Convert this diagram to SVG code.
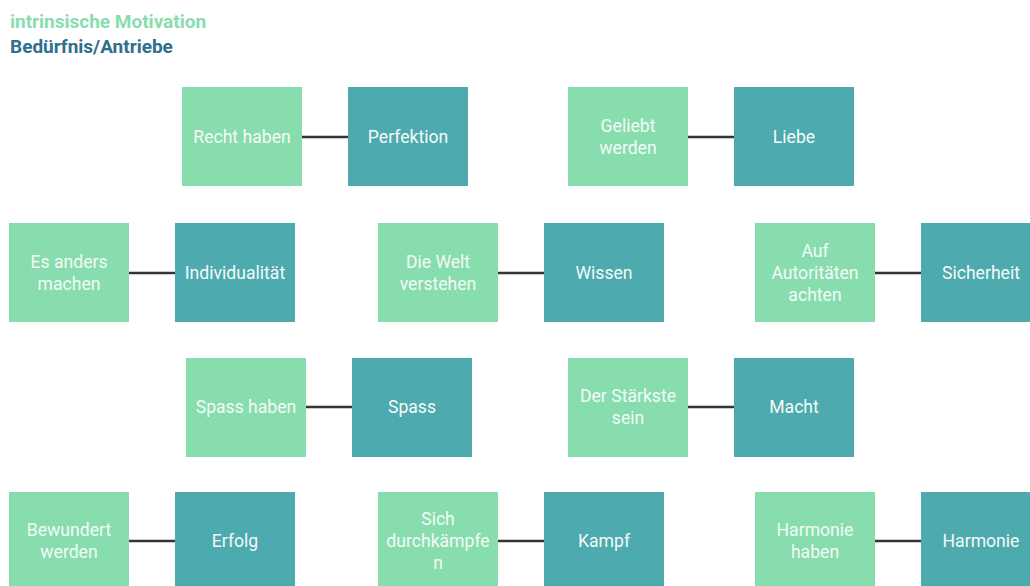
<svg xmlns="http://www.w3.org/2000/svg" width="1030" height="586" viewBox="0 0 1030 586">
  <style>
    .need { fill: #88DDAE; }
    .drive { fill: #4DAAAF; }
    .lbl { font-family: Roboto, "Liberation Sans", sans-serif; font-size: 17.6px; fill: #F4FAF7; text-anchor: middle; dominant-baseline: central; }
    .link { stroke: #333333; stroke-width: 2.5; fill: none; }
    .t1 { font-family: Roboto, "Liberation Sans", sans-serif; font-size: 19px; font-weight: bold; fill: #88DDAE; }
    .t2 { font-family: Roboto, "Liberation Sans", sans-serif; font-size: 19px; font-weight: bold; fill: #2F6E8C; }
  </style>
  <rect width="1030" height="586" fill="#FFFFFF"/>

  <!-- legend -->
  <g id="legend">
    <text class="t1" x="10" y="28">intrinsische Motivation</text>
    <text class="t2" x="10" y="53">Bedürfnis/Antriebe</text>
  </g>

  <!-- connectors -->
  <g id="connectors">
    <line class="link" x1="302" y1="137" x2="348" y2="137"/>
    <line class="link" x1="688" y1="137" x2="734" y2="137"/>
    <line class="link" x1="129" y1="273" x2="175" y2="273"/>
    <line class="link" x1="498" y1="273" x2="544" y2="273"/>
    <line class="link" x1="875" y1="273" x2="921" y2="273"/>
    <line class="link" x1="306" y1="407" x2="352" y2="407"/>
    <line class="link" x1="688" y1="407" x2="734" y2="407"/>
    <line class="link" x1="129" y1="541" x2="175" y2="541"/>
    <line class="link" x1="498" y1="541" x2="544" y2="541"/>
    <line class="link" x1="875" y1="541" x2="921" y2="541"/>
  </g>

  <!-- row 1 -->
  <g id="recht-haben"><rect class="need" x="182" y="87" width="120" height="99"/><text class="lbl" x="242" y="137">Recht haben</text></g>
  <g id="perfektion"><rect class="drive" x="348" y="87" width="120" height="99"/><text class="lbl" x="408" y="137">Perfektion</text></g>
  <g id="geliebt-werden"><rect class="need" x="568" y="87" width="120" height="99"/><text class="lbl" x="628" y="126">Geliebt</text><text class="lbl" x="628" y="148">werden</text></g>
  <g id="liebe"><rect class="drive" x="734" y="87" width="120" height="99"/><text class="lbl" x="794" y="137">Liebe</text></g>

  <!-- row 2 -->
  <g id="es-anders-machen"><rect class="need" x="9" y="223" width="120" height="99"/><text class="lbl" x="69" y="262">Es anders</text><text class="lbl" x="69" y="284">machen</text></g>
  <g id="individualitaet"><rect class="drive" x="175" y="223" width="120" height="99"/><text class="lbl" x="235" y="273">Individualität</text></g>
  <g id="die-welt-verstehen"><rect class="need" x="378" y="223" width="120" height="99"/><text class="lbl" x="438" y="262">Die Welt</text><text class="lbl" x="438" y="284">verstehen</text></g>
  <g id="wissen"><rect class="drive" x="544" y="223" width="120" height="99"/><text class="lbl" x="604" y="273">Wissen</text></g>
  <g id="auf-autoritaeten-achten"><rect class="need" x="755" y="223" width="120" height="99"/><text class="lbl" x="815" y="251">Auf</text><text class="lbl" x="815" y="273">Autoritäten</text><text class="lbl" x="815" y="295">achten</text></g>
  <g id="sicherheit"><rect class="drive" x="921" y="223" width="120" height="99"/><text class="lbl" x="981" y="273">Sicherheit</text></g>

  <!-- row 3 -->
  <g id="spass-haben"><rect class="need" x="186" y="358" width="120" height="99"/><text class="lbl" x="246" y="407">Spass haben</text></g>
  <g id="spass"><rect class="drive" x="352" y="358" width="120" height="99"/><text class="lbl" x="412" y="407">Spass</text></g>
  <g id="der-staerkste-sein"><rect class="need" x="568" y="358" width="120" height="99"/><text class="lbl" x="628" y="396">Der Stärkste</text><text class="lbl" x="628" y="418">sein</text></g>
  <g id="macht"><rect class="drive" x="734" y="358" width="120" height="99"/><text class="lbl" x="794" y="407">Macht</text></g>

  <!-- row 4 -->
  <g id="bewundert-werden"><rect class="need" x="9" y="492" width="120" height="99"/><text class="lbl" x="69" y="530">Bewundert</text><text class="lbl" x="69" y="552">werden</text></g>
  <g id="erfolg"><rect class="drive" x="175" y="492" width="120" height="99"/><text class="lbl" x="235" y="541">Erfolg</text></g>
  <g id="sich-durchkaempfen"><rect class="need" x="378" y="492" width="120" height="99"/><text class="lbl" x="438" y="519">Sich</text><text class="lbl" x="438" y="541">durchkämpfe</text><text class="lbl" x="438" y="563">n</text></g>
  <g id="kampf"><rect class="drive" x="544" y="492" width="120" height="99"/><text class="lbl" x="604" y="541">Kampf</text></g>
  <g id="harmonie-haben"><rect class="need" x="755" y="492" width="120" height="99"/><text class="lbl" x="815" y="530">Harmonie</text><text class="lbl" x="815" y="552">haben</text></g>
  <g id="harmonie"><rect class="drive" x="921" y="492" width="120" height="99"/><text class="lbl" x="981" y="541">Harmonie</text></g>
</svg>
